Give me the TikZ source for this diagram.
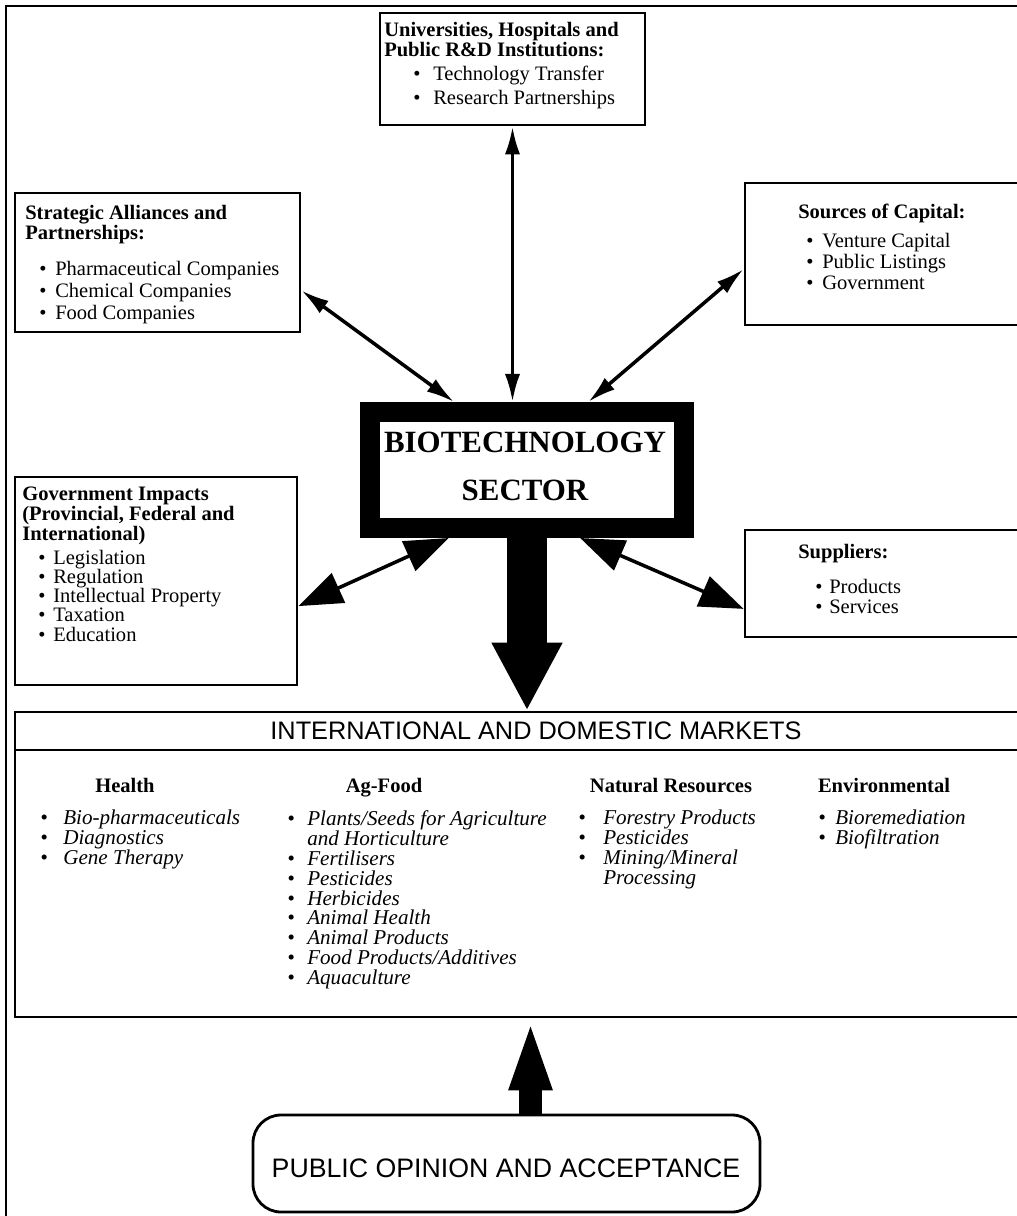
\documentclass[tikz,border=0pt]{standalone}
\usepackage{fontspec}
\setmainfont{Liberation Serif}
\setsansfont{Liberation Sans}
\usetikzlibrary{arrows.meta,positioning,fit,calc}
\tikzset{
    frm/.style={rectangle, draw, line width=2pt, inner sep=0pt},
    biobox/.style={rectangle, draw, line width=0.5cm, inner sep=0pt},
    pubbox/.style={rectangle, draw, line width=2pt, inner sep=0pt, rounded corners=0.7cm},
    hd/.style={anchor=north west, inner sep=0pt, align=left,
               font=\fontsize{14.6}{14.2}\selectfont\bfseries},
    lst/.style={anchor=north west, inner sep=0pt, align=left,
                font=\fontsize{14.6}{#1}\selectfont},
    lst/.default=14.2pt,
    mhd/.style={anchor=base, inner sep=0pt, font=\fontsize{14.6}{14}\selectfont\bfseries},
    mlst/.style={anchor=north west, inner sep=0pt, align=left,
                 font=\fontsize{15}{14.2}\selectfont\itshape},
    caps/.style={inner sep=0pt, font=\fontsize{#1}{#1}\selectfont\sffamily},
    biolbl/.style={inner sep=0pt, align=center, font=\fontsize{22}{34}\selectfont\bfseries},
    dbl/.style={{Latex[length=0.7cm,width=0.38cm]}-{Latex[length=0.7cm,width=0.38cm]}, line width=2.5pt},
    dblbig/.style={{Triangle[length=1.1cm,width=0.8cm]}-{Triangle[length=1.1cm,width=0.8cm]}, line width=2.5pt},
    bigdown/.style={-{Triangle[length=1.7cm,width=1.65cm]}, line width=1cm},
    bigup/.style={-{Triangle[length=1.8cm,width=0.95cm]}, line width=0.58cm},
}
\newcommand{\itm}[1][0.4cm]{\makebox[#1][l]{\textbullet}}

\begin{document}
\begin{tikzpicture}[x=0.025cm, y=-0.025cm]
    \useasboundingbox (0,0) rectangle (1017,1216);
    \draw[line width=2pt] (6,1216) -- (6,6) -- (1017,6);

    % boxes
    \node[frm, fit={(380,13) (645,125)}] (univ) {};
    \node[frm, fit={(15,193) (300,332)}] (strat) {};
    \node[frm, fit={(745,183) (1030,325)}] (cap) {};
    \node[biobox, fit={(370,412) (684,528)}] (bio) {};
    \node[frm, fit={(15,477) (297,685)}] (gov) {};
    \node[frm, fit={(745,530) (1030,637)}] (sup) {};
    \node[frm, fit={(15,712) (1030,750)}] (mkthd) {};
    \node[frm, fit={(15,750) (1030,1017)}] (mkt) {};
    \node[pubbox, fit={(253,1115) (760,1212)}] (pub) {};

    % texts
    \node[hd] (univhd) at (384,22) {Universities, Hospitals and\\Public R\&D Institutions:};
    \node[lst=17pt] (univls) at (413,66) {\itm[0.5cm]Technology Transfer\\\itm[0.5cm]Research Partnerships};
    \node[hd] (strathd) at (25,205) {Strategic Alliances and\\Partnerships:};
    \node[lst=15.6pt] (stratls) at (39,261) {\itm Pharmaceutical Companies\\\itm Chemical Companies\\\itm Food Companies};
    \node[hd] (caphd) at (798,204) {Sources of Capital:};
    \node[lst=15pt] (capls) at (806,233) {\itm Venture Capital\\\itm Public Listings\\\itm Government};
    \node[biolbl] (biotxt) at (525,466) {BIOTECHNOLOGY\\SECTOR};
    \node[hd] (govhd) at (22,487) {Government Impacts\\(Provincial, Federal and\\International)};
    \node[lst=13.6pt] (govls) at (38,550) {\itm[0.375cm]Legislation\\\itm[0.375cm]Regulation\\
        \itm[0.375cm]Intellectual Property\\\itm[0.375cm]Taxation\\\itm[0.375cm]Education};
    \node[hd] (suphd) at (798,544) {Suppliers:};
    \node[lst] (supls) at (815,579) {\itm[0.35cm]Products\\\itm[0.35cm]Services};

    % markets
    \node[caps=18pt] (mktlbl) at (536,731) {INTERNATIONAL AND DOMESTIC MARKETS};
    \node[mhd] (health) at (125,792) {Health};
    \node[mhd] (agfood) at (384,792) {Ag-Food};
    \node[mhd] (natres) at (671,792) {Natural Resources};
    \node[mhd] (envir) at (884,792) {Environmental};
    \node[mlst] (healthls) at (40,810) {\itm[0.575cm]Bio-pharmaceuticals\\\itm[0.575cm]Diagnostics\\
        \itm[0.575cm]Gene Therapy};
    \node[mlst] (agls) at (287,810) {\itm[0.5cm]Plants/Seeds for Agriculture\\\hspace*{0.5cm}and Horticulture\\
        \itm[0.5cm]Fertilisers\\\itm[0.5cm]Pesticides\\\itm[0.5cm]Herbicides\\\itm[0.5cm]Animal Health\\
        \itm[0.5cm]Animal Products\\\itm[0.5cm]Food Products/Additives\\\itm[0.5cm]Aquaculture};
    \node[mlst] (natls) at (578,810) {\itm[0.625cm]Forestry Products\\\itm[0.625cm]Pesticides\\
        \itm[0.625cm]Mining/Mineral\\\hspace*{0.625cm}Processing};
    \node[mlst] (envls) at (818,810) {\itm[0.425cm]Bioremediation\\\itm[0.425cm]Biofiltration};
    \node[caps=19pt] (publbl) at (506,1168) {PUBLIC OPINION AND ACCEPTANCE};

    % connectors
    \draw[dbl] (univ.south) -- (univ.south |- bio.north);
    \draw[dbl] (strat.-11) -- (bio.137);
    \draw[dbl] (cap.186) -- (bio.48);
    \draw[dblbig] (gov.-10) -- (bio.221);
    \draw[dblbig] (sup.190) -- (bio.-52);
    \draw[bigdown] (bio.south) -- (bio.south |- mkthd.north);
    \draw[bigup] ([xshift=0.6cm]pub.north) -- ([xshift=0.6cm]pub.north |- mkt.south);
\end{tikzpicture}
\end{document}
